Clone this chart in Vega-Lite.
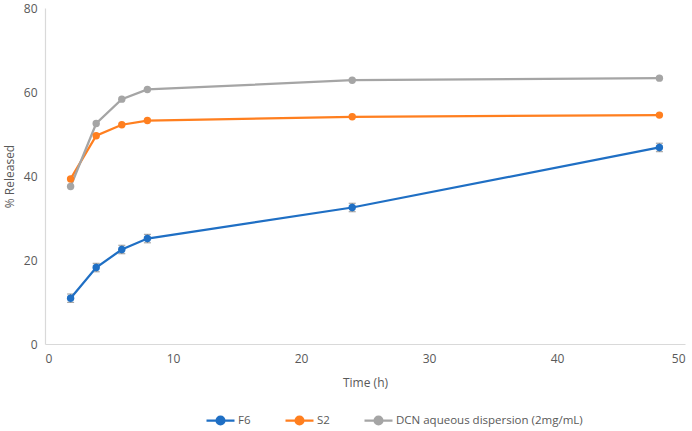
{
  "$schema": "https://vega.github.io/schema/vega-lite/v6.json",
  "autosize": "none",
  "width": 640,
  "height": 336,
  "padding": {"left": 45, "top": 8, "right": 7, "bottom": 87},
  "background": "white",
  "data": {
    "values": [
      {"time": 2, "series": "F6", "value": 10.9, "lo": 9.9, "hi": 11.9},
      {"time": 4, "series": "F6", "value": 18.2, "lo": 17.2, "hi": 19.2},
      {"time": 6, "series": "F6", "value": 22.5, "lo": 21.5, "hi": 23.5},
      {"time": 8, "series": "F6", "value": 25.1, "lo": 24.1, "hi": 26.1},
      {"time": 24, "series": "F6", "value": 32.5, "lo": 31.5, "hi": 33.5},
      {"time": 48, "series": "F6", "value": 46.8, "lo": 45.8, "hi": 47.8},
      {"time": 2, "series": "S2", "value": 39.3},
      {"time": 4, "series": "S2", "value": 49.6},
      {"time": 6, "series": "S2", "value": 52.2},
      {"time": 8, "series": "S2", "value": 53.2},
      {"time": 24, "series": "S2", "value": 54.1},
      {"time": 48, "series": "S2", "value": 54.5},
      {"time": 2, "series": "DCN aqueous dispersion (2mg/mL)", "value": 37.5},
      {"time": 4, "series": "DCN aqueous dispersion (2mg/mL)", "value": 52.5},
      {"time": 6, "series": "DCN aqueous dispersion (2mg/mL)", "value": 58.3},
      {"time": 8, "series": "DCN aqueous dispersion (2mg/mL)", "value": 60.6},
      {"time": 24, "series": "DCN aqueous dispersion (2mg/mL)", "value": 62.8},
      {"time": 48, "series": "DCN aqueous dispersion (2mg/mL)", "value": 63.3}
    ]
  },
  "encoding": {
    "x": {
      "field": "time",
      "type": "quantitative",
      "title": "Time (h)",
      "scale": {"domain": [0, 50], "nice": false},
      "axis": {"values": [0, 10, 20, 30, 40, 50], "titlePadding": 13, "labelPadding": 9}
    }
  },
  "layer": [
    {
      "mark": {"type": "rule", "color": "#808080", "strokeWidth": 1},
      "encoding": {
        "y": {"field": "lo", "type": "quantitative"},
        "y2": {"field": "hi"}
      }
    },
    {
      "mark": {"type": "tick", "color": "#808080", "orient": "horizontal", "size": 7, "thickness": 1.2},
      "encoding": {"y": {"field": "lo", "type": "quantitative"}}
    },
    {
      "mark": {"type": "tick", "color": "#808080", "orient": "horizontal", "size": 7, "thickness": 1.2},
      "encoding": {"y": {"field": "hi", "type": "quantitative"}}
    },
    {
      "mark": {"type": "line", "strokeWidth": 2.25},
      "encoding": {
        "y": {
          "field": "value",
          "type": "quantitative",
          "title": "% Released",
          "scale": {"domain": [0, 80], "nice": false},
          "axis": {"values": [0, 20, 40, 60, 80], "titlePadding": 7}
        },
        "color": {
          "field": "series",
          "type": "nominal",
          "scale": {
            "domain": ["F6", "S2", "DCN aqueous dispersion (2mg/mL)"],
            "range": ["#1f6fc4", "#ff7f1f", "#a5a5a5"]
          },
          "legend": {
            "orient": "none",
            "direction": "horizontal",
            "legendX": 160,
            "legendY": 397,
            "title": null,
            "symbolType": "M-1,0H1M0.28,0A0.28,0.28,0,1,1,-0.28,0A0.28,0.28,0,1,1,0.28,0Z",
            "symbolSize": 784,
            "symbolStrokeWidth": 2.25,
            "labelOffset": 2,
            "labelLimit": 400,
            "columnPadding": 30,
            "encode": {
              "symbols": {
                "update": {
                  "stroke": {"scale": "color", "field": "value"},
                  "fill": {"scale": "color", "field": "value"},
                  "strokeWidth": {"value": 2.25}
                }
              }
            }
          }
        }
      }
    },
    {
      "mark": {"type": "point", "filled": true, "size": 55, "opacity": 1},
      "encoding": {
        "y": {"field": "value", "type": "quantitative"},
        "color": {"field": "series", "type": "nominal"}
      }
    }
  ],
  "config": {
    "view": {"stroke": null},
    "font": "Open Sans",
    "axis": {
      "grid": false,
      "ticks": false,
      "domainColor": "#d9d9d9",
      "domainWidth": 1.2,
      "labelColor": "#595959",
      "titleColor": "#595959",
      "labelFont": "Open Sans",
      "titleFont": "Open Sans",
      "labelFontSize": 12,
      "titleFontSize": 12,
      "titleFontWeight": "normal",
      "labelPadding": 8
    },
    "legend": {
      "labelColor": "#595959",
      "labelFont": "Open Sans",
      "labelFontSize": 11.5
    }
  }
}
